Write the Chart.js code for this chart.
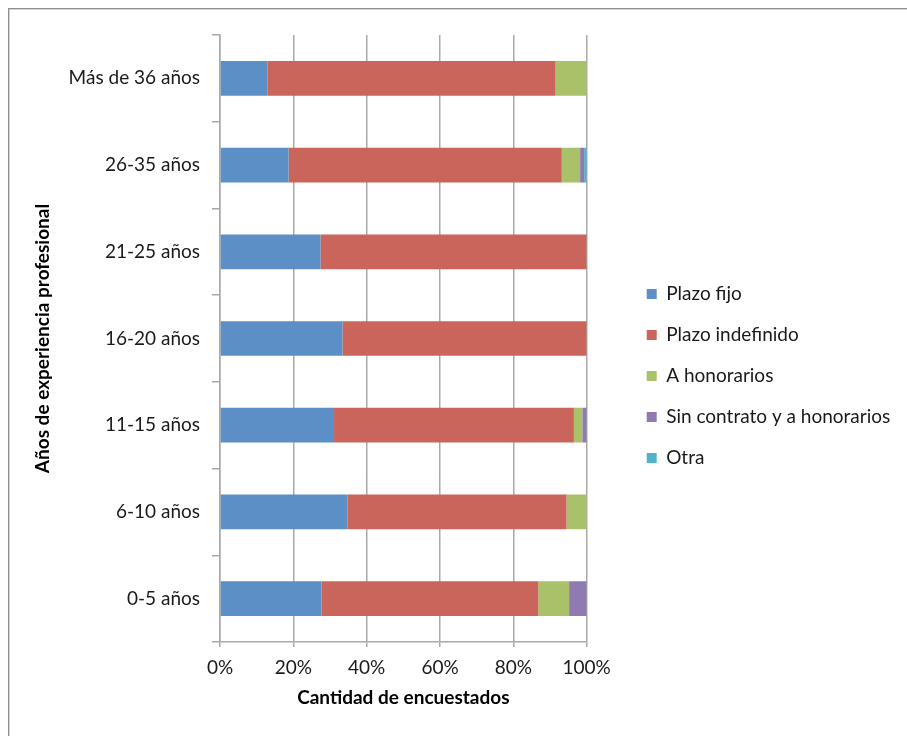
<!DOCTYPE html>
<html lang="es">
<head>
<meta charset="utf-8">
<title>Tipo de contrato por años de experiencia</title>
<script src="https://cdn.jsdelivr.net/npm/chart.js@4.4.1/dist/chart.umd.min.js"></script>
<style>
  html, body { margin: 0; padding: 0; background: #fff; }
  body { width: 907px; height: 736px; position: relative; overflow: hidden; }
  .frame {
    position: absolute; left: 8px; top: 8px; right: 0; bottom: 0;
    border-top: 1px solid #8f8f8f; border-left: 1px solid #8f8f8f;
    box-shadow: inset 1px 1px 0 #d4d4d4;
  }
  .chart-box { position: absolute; left: 10px; top: 10px; width: 897px; height: 726px; }
</style>
</head>
<body>
<div class="frame"></div>
<div class="chart-box"><canvas id="contractChart"></canvas></div>
<script>
// categories bottom -> top
const categories = ["0-5 años", "6-10 años", "11-15 años", "16-20 años", "21-25 años", "26-35 años", "Más de 36 años"];

// share of respondents (%) per category
const plazoFijo = [27.7, 34.8, 31.1, 33.4, 27.4, 18.7, 13.0];
const plazoIndefinido = [59.1, 59.7, 65.4, 66.6, 72.6, 74.5, 78.5];
const aHonorarios = [8.4, 5.5, 2.3, 0, 0, 5.0, 8.5];
const sinContrato = [4.8, 0, 1.2, 0, 0, 1.1, 0];
const otra = [0, 0, 0, 0, 0, 0.7, 0];

const xTicks = [0, 20, 40, 60, 80, 100];

const FONT = "Lato, 'Open Sans', sans-serif";
const gridGray = "#a9a9a9";

// move the legend a bit away from the plot, like the original sheet
const legendShift = {
  id: "legendShift",
  afterLayout(chart) {
    const lg = chart.legend;
    lg.left += 38;
    lg.right += 38;
    lg.top -= 9.5;
    lg.bottom -= 9.5;
  },
};

function series(label, values, color) {
  return {
    label: label,
    data: values,
    backgroundColor: color,
    borderWidth: 0,
    barPercentage: 0.4,
    categoryPercentage: 1,
  };
}

new Chart(document.getElementById("contractChart"), {
  type: "bar",
  data: {
    labels: categories,
    datasets: [
      series("Plazo fijo", plazoFijo, "#5b8fc5"),
      series("Plazo indefinido", plazoIndefinido, "#c9655b"),
      series("A honorarios", aHonorarios, "#a9c26a"),
      series("Sin contrato y a honorarios", sinContrato, "#8f7bb1"),
      series("Otra", otra, "#51b3ca"),
    ],
  },
  options: {
    indexAxis: "y",
    responsive: true,
    maintainAspectRatio: false,
    animation: false,
    layout: { padding: { top: 25, right: 0, bottom: 0, left: 0 } },
    plugins: {
      tooltip: { enabled: false },
      legend: {
        position: "right",
        maxWidth: 400,
        labels: {
          boxWidth: 10,
          boxHeight: 10,
          padding: 22,
          color: "#1a1a1a",
          font: { family: FONT, size: 19 },
        },
      },
    },
    scales: {
      x: {
        stacked: true,
        min: 0,
        max: 100,
        afterBuildTicks: (scale) => {
          scale.ticks = xTicks.map((v) => ({ value: v }));
        },
        afterFit: (scale) => {
          scale.height = 94;
          scale.paddingRight = 320.3;
        },
        ticks: {
          callback: (value) => value + "%",
          color: "#1a1a1a",
          padding: 9,
          font: { family: FONT, size: 19 },
        },
        grid: { color: gridGray, lineWidth: 1.5, tickLength: 5 },
        border: { color: gridGray, width: 1.5 },
        title: {
          display: true,
          text: "Cantidad de encuestados",
          color: "#000",
          padding: { top: 0, bottom: 27 },
          font: { family: FONT, size: 19, weight: "bold" },
        },
      },
      y: {
        stacked: true,
        reverse: true,
        afterFit: (scale) => {
          scale.width = 210;
        },
        ticks: {
          color: "#1a1a1a",
          padding: 12,
          font: { family: FONT, size: 19 },
        },
        grid: { offset: true, drawOnChartArea: false, color: gridGray, lineWidth: 1.5, tickLength: 8 },
        border: { color: gridGray, width: 1.5 },
        title: {
          display: true,
          text: "Años de experiencia profesional",
          color: "#000",
          padding: { top: 21.5, bottom: 0 },
          font: { family: FONT, size: 19, weight: "bold" },
        },
      },
    },
  },
  plugins: [legendShift],
});
</script>
</body>
</html>
